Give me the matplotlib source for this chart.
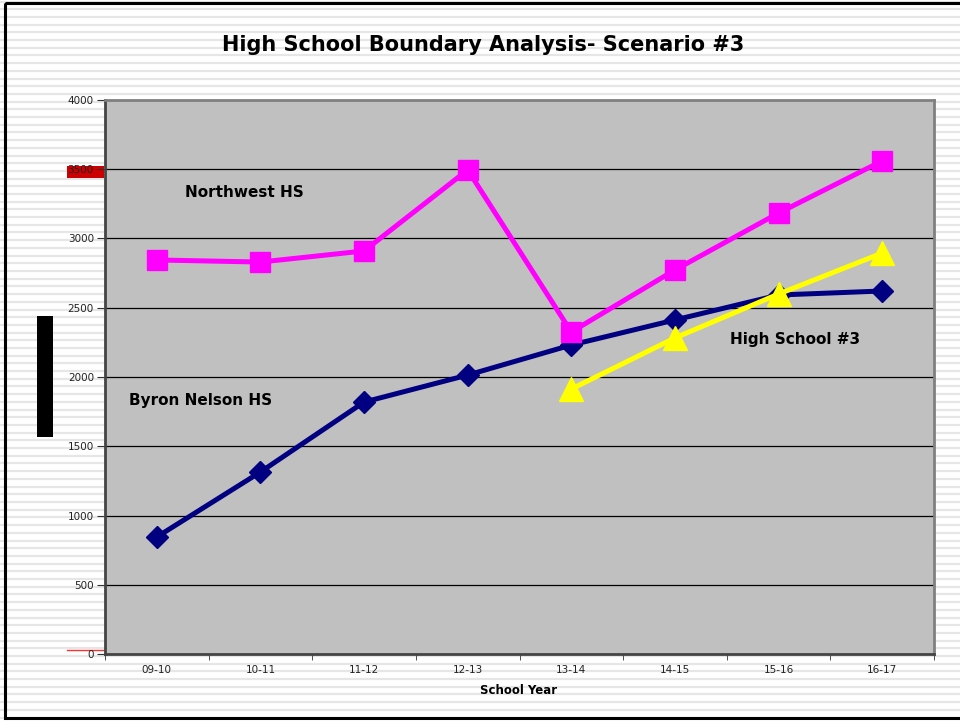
import numpy as np
import matplotlib
matplotlib.use("Agg")
from matplotlib import pyplot as plt
from matplotlib.patches import Rectangle

# ---------- data ----------
years = ["09-10", "10-11", "11-12", "12-13", "13-14", "14-15", "15-16", "16-17"]
byron_nelson = [845, 1314, 1819, 2014, 2231, 2412, 2592, 2621]
northwest = [2845, 2830, 2910, 3495, 2325, 2773, 3184, 3560]
hs3_years = ["13-14", "14-15", "15-16", "16-17"]
high_school_3 = [1913, 2282, 2599, 2895]
y_ticks = [0, 500, 1000, 1500, 2000, 2500, 3000, 3500, 4000]

W, H = 960, 721
plt.rcParams['font.family'] = ['DejaVu Sans']

fig = plt.figure(figsize=(W / 100, H / 100), dpi=100)

# striped slide background
bg = fig.add_axes([0, 0, 1, 1], zorder=0)
bg.set_xlim(0, W)
bg.set_ylim(H, 0)
bg.axis("off")
for yy in np.arange(1.5, H, 7.7):
	bg.axhline(yy, color="#e6e6e6", lw=1.6, zorder=1)
bg.add_patch(Rectangle((5, 3), W + 10, 715, fill=False, ec="black", lw=2.2, zorder=5))
# stray marks on the left of the chart
bg.add_patch(Rectangle((67, 166), 37, 12, color="#cc0000", lw=0, zorder=5))
bg.add_patch(Rectangle((37, 316), 16, 121, color="black", lw=0, zorder=5))
bg.plot([67, 104], [650, 650], color="#ff3030", lw=1, zorder=5)

# ---------- chart ----------
left, right, top, bottom = 105, 934, 100, 654
ax = fig.add_axes([left / W, (H - bottom) / H, (right - left) / W, (bottom - top) / H], zorder=1)
ax.set_facecolor("#c0c0c0")

x = np.arange(len(years))
x3 = np.array([years.index(y) for y in hs3_years])

ax.plot(x, byron_nelson, color="#000080", lw=3.6, marker="D", ms=11, zorder=3)
ax.plot(x, northwest, color="#ff00ff", lw=3.6, marker="s", ms=15, zorder=4)
ax.plot(x3, high_school_3, color="#ffff00", lw=3.6, marker="^", ms=17, zorder=5)

ax.set_xlim(-0.5, len(years) - 0.5)
ax.set_ylim(0, 4000)
ax.set_yticks(y_ticks)
ax.set_yticklabels([str(v) for v in y_ticks], fontsize=7.5, color="#222222")
for v in y_ticks[1:-1]:
	ax.axhline(v, color="black", lw=0.9, zorder=1)

ax.set_xticks(x)
ax.set_xticklabels(years, fontsize=7.5, color="#222222")
ax.set_xticks(np.arange(-0.5, len(years)), minor=True)
ax.tick_params(axis="x", which="major", length=0, pad=8)
ax.tick_params(axis="x", which="minor", length=4, direction="out", color="#333333")
ax.tick_params(axis="y", length=6, direction="out", color="#333333", pad=2)

for s in ["top", "right"]:
	ax.spines[s].set_color("#808080")
	ax.spines[s].set_linewidth(2)
for s in ["left", "bottom"]:
	ax.spines[s].set_color("#444444")
	ax.spines[s].set_linewidth(2)

ax.text(0.27, 3300, "Northwest HS", fontsize=11, fontweight="bold")
ax.text(-0.27, 1800, "Byron Nelson HS", fontsize=11, fontweight="bold")
ax.text(5.53, 2240, "High School #3", fontsize=11, fontweight="bold")

fig.text(483 / W, 1 - 45 / H, "High School Boundary Analysis- Scenario #3",
	ha="center", va="center", fontsize=15, fontweight="bold")
fig.text(519 / W, 1 - 691 / H, "School Year", ha="center", va="center",
	fontsize=8.5, fontweight="bold")

fig.savefig("out.png", dpi=100)
